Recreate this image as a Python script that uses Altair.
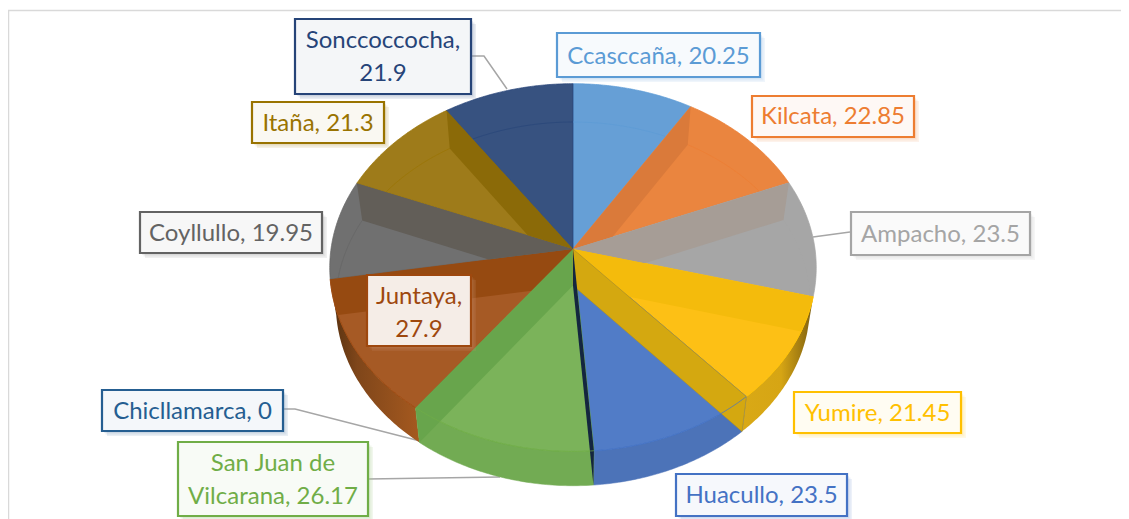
import math
import altair as alt

# ---- data ----
names = ["Ccasccaña", "Kilcata", "Ampacho", "Yumire", "Huacullo", "Chicllamarca",
         "San Juan de Vilcarana", "Juntaya", "Coyllullo", "Itaña", "Sonccoccocha"]
values = [20.25, 22.85, 23.5, 21.45, 23.5, 0, 26.17, 27.9, 19.95, 21.3, 21.9]
top_colors = ["#669FD6", "#EA853F", "#A6A6A6", "#FDC015", "#517CC7", "#1F4E79",
              "#7BB35A", "#A65A25", "#707070", "#9E7B1A", "#375280"]
edge_colors = ["#5B9BD5", "#ED7D31", "#A5A5A5", "#FFC000", "#4472C4", "#255E91",
               "#70AD47", "#9E480E", "#636363", "#997300", "#264478"]
label_lines = [["Ccasccaña, 20.25"], ["Kilcata, 22.85"], ["Ampacho, 23.5"], ["Yumire, 21.45"],
               ["Huacullo, 23.5"], ["Chicllamarca, 0"], ["San Juan de", "Vilcarana, 26.17"],
               ["Juntaya,", "27.9"], ["Coyllullo, 19.95"], ["Itaña, 21.3"], ["Sonccoccocha,", "21.9"]]

# ---- layout: label boxes (x0, y0, x1, y1) in page pixels, first text line centre, line step ----
boxes = [(557, 33, 760, 77), (752, 96, 914, 137), (851, 212, 1030, 255), (794, 392, 961, 433),
         (676, 474, 847, 516), (102, 390, 283, 431), (178, 442, 368, 516), (367, 275, 471, 346),
         (140, 212, 322, 253), (252, 102, 384, 143), (295, 19, 471, 94)]
first_line = [57, 117, 235, 414, 496, 412, 464, 297, 234, 124, 41]
LINE_STEP = 33
FONT = "Lato"
FONT_SIZE = 24
leaders = [[(472, 56), (484, 56), (507, 89)], [(850, 232), (813, 237)],
           [(284, 409), (295, 409), (420, 441)], [(368, 479), (500, 477)]]
# inner wall colours by slice (None = not visible)
band_colors = ["", "#DA7A3A", "#A69D96", "#F4BB0C", "", "", "#68A54C", "#964A11", "#625E58", "#8B6A08", ""]
wall_colors = ["", "", "", "", "#4C73B8", "", "#72AB53", "", "", "", ""]


# ---- a perspective view of the disc: value angles to page pixels ----
def top_pt(t):
    s, c = math.sin(t), math.cos(t)
    d = 1 + 0.101 * c
    return (573 + 242 * s / d, 249 - 182 * c / d)


def bot_pt(t):
    s, c = math.sin(t), math.cos(t)
    d = 1 + 0.101 * c
    return (573 + 236 * s / d, 285.5 - 180 * c / d)


def arc(fn, a, b, n=60):
    return [fn(a + (b - a) * i / n) for i in range(n + 1)]


total = sum(values)
angles = [0.0]
for v in values:
    angles.append(angles[-1] + v / total * 2 * math.pi)

C_TOP = 573, 249
C_BOT = 573, 285.5


def inside_fn(poly):
    area = sum(poly[i][0] * poly[(i + 1) % len(poly)][1] - poly[(i + 1) % len(poly)][0] * poly[i][1]
               for i in range(len(poly)))
    sign = 1 if area > 0 else -1

    def side(p, a, b):
        return sign * ((b[0] - a[0]) * (p[1] - a[1]) - (b[1] - a[1]) * (p[0] - a[0]))
    return side


def clip(subject, poly):
    side = inside_fn(poly)
    out = subject
    for i in range(len(poly)):
        a, b = poly[i], poly[(i + 1) % len(poly)]
        if abs(a[0] - b[0]) + abs(a[1] - b[1]) < 1e-9:
            continue
        cur, out = out, []
        for j in range(len(cur)):
            p, q = cur[j], cur[(j + 1) % len(cur)]
            sp, sq = side(p, a, b), side(q, a, b)
            if sp >= 0:
                out.append(p)
            if (sp >= 0) != (sq >= 0):
                u = sp / (sp - sq)
                out.append((p[0] + u * (q[0] - p[0]), p[1] + u * (q[1] - p[1])))
        if not out:
            return []
    return out


def contains(p, poly):
    side = inside_fn(poly)
    return all(side(p, poly[i], poly[(i + 1) % len(poly)]) >= -0.01
               for i in range(len(poly)))


def poly_feature(pts, fill, stroke="none", sw=0, op=1.0):
    ring = [list(p) for p in pts] + [list(pts[0])]
    return {"type": "Feature", "geometry": {"type": "Polygon", "coordinates": [ring]},
            "properties": {"fill": fill, "stroke": stroke, "sw": sw, "op": op}}


def line_feature(pts, stroke, sw, op=1.0):
    return {"type": "Feature", "geometry": {"type": "LineString", "coordinates": [list(p) for p in pts]},
            "properties": {"fill": "none", "stroke": stroke, "sw": sw, "op": op}}


def mix(hex_color, t):
    rgb = [int(hex_color[i:i + 2], 16) for i in (1, 3, 5)]
    return "#%02X%02X%02X" % tuple(round(255 + (x - 255) * t) for x in rgb)


def wall(i):
    a, b = angles[i], angles[i + 1]
    return arc(top_pt, a, b) + arc(bot_pt, a, b)[::-1]


def slice_poly(i):
    return [C_TOP] + arc(top_pt, angles[i], angles[i + 1])


def radial(t):
    return [C_TOP, top_pt(t), bot_pt(t), C_BOT]


# ---- assemble shapes, painted back to front ----
under = [line_feature([(8.5, 519), (8.5, 10.5), (1129, 10.5)], "#D9D9D9", 1.5)]
for pts in leaders:
    under.append(line_feature(pts, "#A6A6A6", 1.5))

surface = []
for i in (4, 6):
    surface.append(poly_feature(wall(i), wall_colors[i], wall_colors[i], 0.5))
for i in range(len(values)):
    if values[i] > 0:
        surface.append(poly_feature(slice_poly(i), top_colors[i], edge_colors[i], 0.7))

# the lower disc's back rim, seen through the top
for i in (0, 1, 2, 8, 9, 10):
    poly = slice_poly(i)
    pts = [p for p in arc(bot_pt, angles[i], angles[i + 1], 120) if contains(p, poly)]
    if len(pts) > 1:
        surface.append(line_feature(pts, edge_colors[i], 0.8, 0.8))

# inner cut faces, seen through the top
for i, t in [(1, angles[1]), (2, angles[2]), (3, angles[3]), (7, angles[8]), (8, angles[9]), (9, angles[10])]:
    band = clip(radial(t), slice_poly(i))
    if band:
        surface.append(poly_feature(band, band_colors[i]))
surface.append(poly_feature(radial(angles[6 + 1]), band_colors[6]))
surface.append(poly_feature(radial(angles[4]), "#D4A810", "#B8900E", 0.5))
surface.append(poly_feature(radial(angles[5]), "#14263F"))
# the front rim of the top over the side walls
for i in (3, 4, 6, 7):
    surface.append(line_feature(arc(top_pt, angles[i], angles[i + 1]), edge_colors[i], 0.8, 0.9))

labels = []
for box, col in zip(boxes, edge_colors):
    x0, y0, x1, y1 = box
    for off in (2, 3.5, 5):
        labels.append(poly_feature([(x0 + off, y0 + off), (x1 + off, y0 + off), (x1 + off, y1 + off), (x0 + off, y1 + off)],
                                   mix(col, 0.6), op=0.16))
for k, (box, col) in enumerate(zip(boxes, edge_colors)):
    x0, y0, x1, y1 = box
    labels.append(poly_feature([(x0, y0), (x1, y0), (x1, y1), (x0, y1)],
                               mix(col, 0.1 if k == 7 else 0.05), col, 2.2))

texts = []
for lines, box, y, col in zip(label_lines, boxes, first_line, edge_colors):
    for j, line in enumerate(lines):
        texts.append({"t": line, "lon": (box[0] + box[2]) / 2, "lat": y + j * LINE_STEP, "c": col})

# ---- chart ----
PROJ = dict(type="identity", scale=1, translate=[-8, -8])


def shapes(features):
    return alt.Chart(alt.Data(values=features)).mark_geoshape().encode(
        fill=alt.Fill("properties.fill:N", scale=None),
        stroke=alt.Stroke("properties.stroke:N", scale=None),
        strokeWidth=alt.StrokeWidth("properties.sw:Q", scale=None),
        opacity=alt.Opacity("properties.op:Q", scale=None),
    ).project(**PROJ)


def gradient_wall(i, stops):
    grad = alt.Gradient(gradient="linear", x1=0, x2=1, y1=0, y2=0,
                        stops=[alt.GradientStop(offset=o, color=c) for o, c in stops])
    return alt.Chart(alt.Data(values=[poly_feature(wall(i), "x")])).mark_geoshape(
        fill=grad).project(**PROJ)


wall_yumire = gradient_wall(3, [(0, "#D9A916"), (0.55, "#D6A514"), (1, "#7F6010")])
wall_juntaya = gradient_wall(7, [(0, "#55300F"), (0.3, "#7F461A"), (1, "#A5591F")])

text_layer = alt.Chart(alt.Data(values=texts)).mark_text(
    font=FONT, fontSize=FONT_SIZE, baseline="middle", align="center"
).encode(
    longitude="lon:Q", latitude="lat:Q", text="t:N",
    color=alt.Color("c:N", scale=None),
).project(**PROJ)

chart = alt.layer(shapes(under), wall_yumire, wall_juntaya, shapes(surface), shapes(labels), text_layer).properties(
    width=1113, height=511, padding=0, autosize="none", background="white"
).configure_view(stroke=None)

chart.save("out.html", embed_options={"renderer": "svg", "actions": False})
